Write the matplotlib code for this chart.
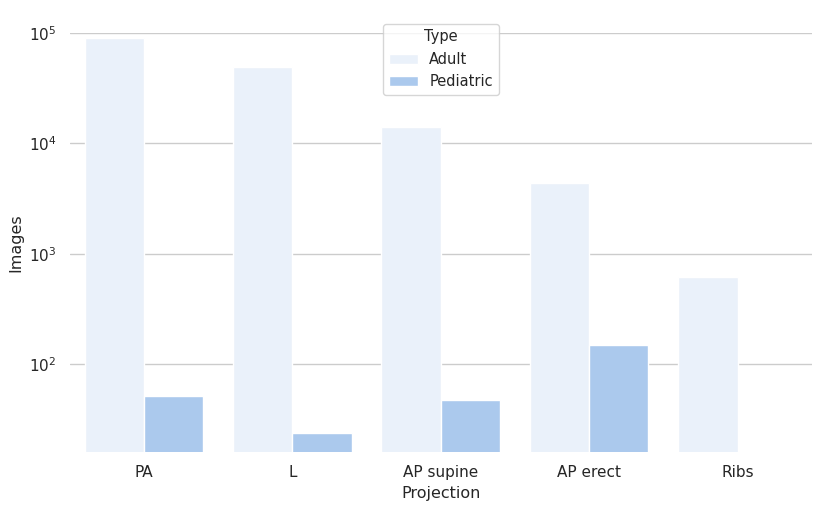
import numpy as np
import pandas as pd
import seaborn as sns
from matplotlib import pyplot as plt

# image counts per projection
projections = ['PA', 'L', 'AP supine', 'AP erect', 'Ribs']
adult_images = [90000, 49200, 14100, 4370, 620]
pediatric_images = [52, 24, 47, 149, np.nan]  # no pediatric rib images


def build_df():
    """
    long format frame for seaborn
    """
    rows = []
    for proj, a, p in zip(projections, adult_images, pediatric_images):
        rows.append([proj, 'Adult', a])
        rows.append([proj, 'Pediatric', p])
    return pd.DataFrame(rows, columns=['Projection', 'Type', 'Images'])


def plot_projections():
    df = build_df()
    sns.set_theme(style='whitegrid')

    fig = plt.figure(figsize=(8.3, 5.09), dpi=100)
    ax = fig.add_subplot(111)
    fig.subplots_adjust(left=0.084, right=0.978, top=0.935, bottom=0.112)

    sns.barplot(data=df, x='Projection', y='Images', hue='Type',
                palette=['#eaf1fa', '#abc9ed'], saturation=1,
                edgecolor='white', linewidth=1, ax=ax)
    ax.set_yscale('log')
    ax.set_ylim(16, 1e5)
    ax.set_xlim(-0.5, 4.5)
    ax.set_xlabel('Projection', fontsize=11.5)
    ax.set_ylabel('Images', fontsize=11.5)
    sns.despine(left=True, bottom=True)

    ax.legend(title='Type', loc='upper center', bbox_to_anchor=(0.5, 1.04),
              fontsize=10.5, title_fontsize=10.5)
    fig.savefig('out.png')


plot_projections()
